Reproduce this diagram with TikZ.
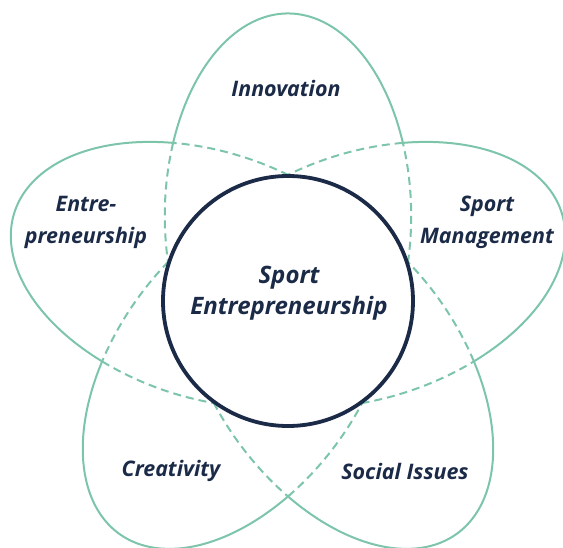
\documentclass[tikz,border=0pt]{standalone}
\usepackage{fontspec}
\setmainfont{Open Sans}
\definecolor{petalgreen}{HTML}{7CC5AA}
\definecolor{navy}{HTML}{1B2A47}
\begin{document}
\begin{tikzpicture}[x=1pt,y=1pt,
  petal/.style={draw=petalgreen,line width=2pt},
  petaldash/.style={petal,dash pattern=on 8pt off 5pt},
  core/.style={circle,draw=navy,fill=white,line width=3.8pt,minimum size=250pt,inner sep=0pt},
  lbl/.style={text=navy,font=\bfseries\itshape\fontsize{21.4}{32}\selectfont,align=center,inner sep=0pt},
  corelbl/.style={text=navy,font=\bfseries\itshape\fontsize{24}{31}\selectfont,align=center,inner sep=0pt}]
  % canvas: 563 x 547, origin at the centre of the core circle
  \useasboundingbox (-288,-246) rectangle (275,301);
  % petal ellipse: centre offset, semi-axes, parametric angle of the outer crossings
  \def\dd{85}\def\ea{202.5}\def\eb{123.2}\def\tc{68.9}
  \foreach \t in {18,90,162,234,306}{
    \draw[petal,rotate=\t] ({\dd+\ea*cos(-\tc)},{\eb*sin(-\tc)})
      arc[start angle=-\tc,end angle=\tc,x radius=\ea pt,y radius=\eb pt];
    \draw[petaldash,rotate=\t] ({\dd+\ea*cos(\tc)},{\eb*sin(\tc)})
      arc[start angle=\tc,end angle=360-\tc,x radius=\ea pt,y radius=\eb pt];
  }
  \node[core] (core) at (0,0) {};
  \node[corelbl] (corelabel) at (1,8) {Sport\\Entrepreneurship};
  \node[lbl] (innovation) at (-2,213) {Innovation};
  \node[lbl] (entre) at (-202,79) {Entre-\\preneurship};
  \node[lbl] (management) at (199,79) {Sport\\Management};
  \node[lbl] (creativity) at (-117,-170) {Creativity};
  \node[lbl] (social) at (117,-170) {Social Issues};
\end{tikzpicture}
\end{document}
